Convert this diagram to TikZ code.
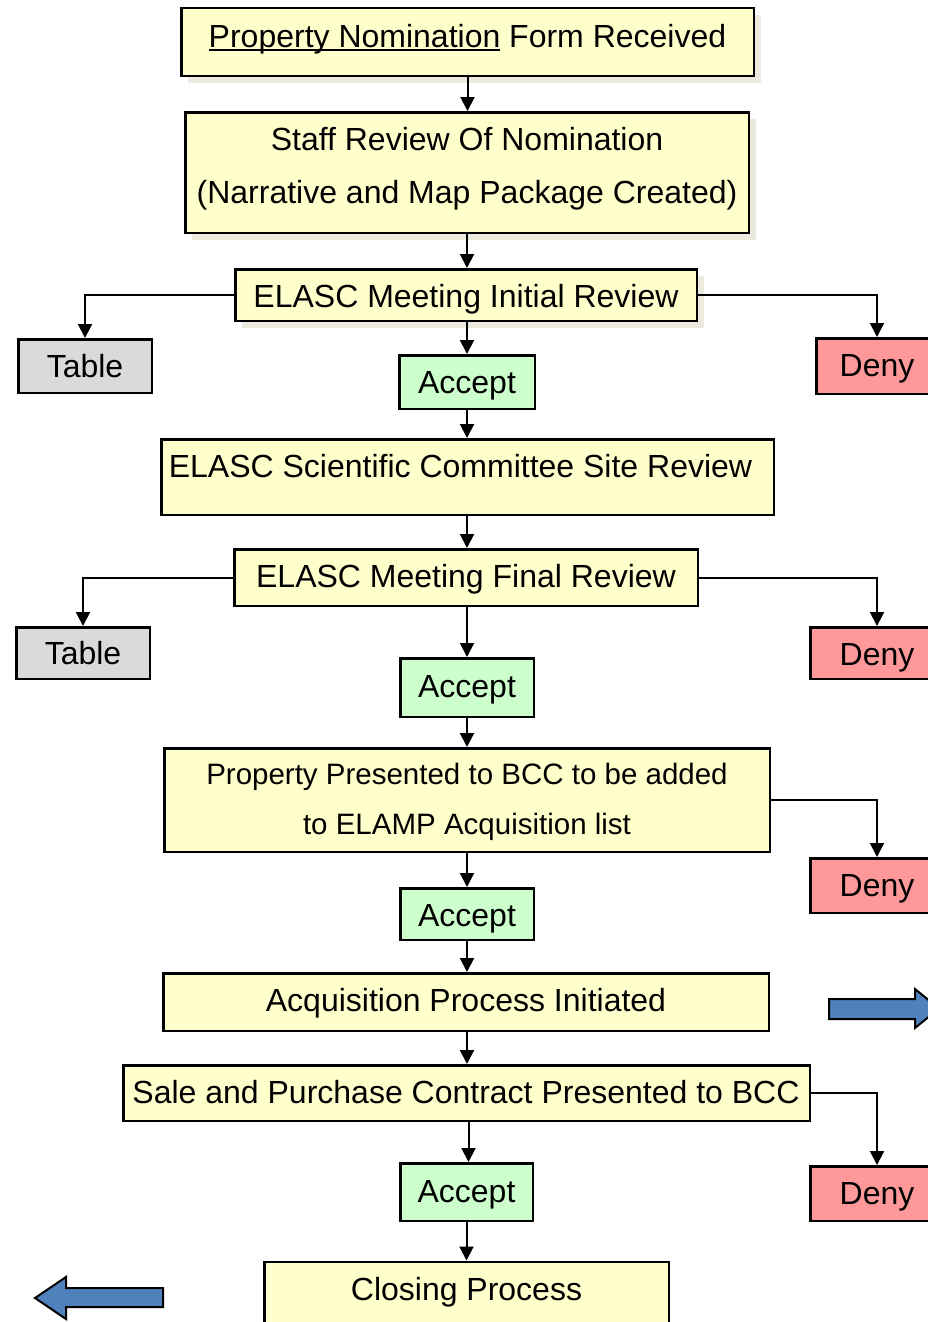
\documentclass[tikz,border=0pt]{standalone}
\usepackage{fontspec}
\setmainfont{Liberation Sans}
\usetikzlibrary{arrows.meta,calc,shadows}
\definecolor{boxyellow}{HTML}{FFFFCC}
\definecolor{boxgreen}{HTML}{CCFFCC}
\definecolor{boxred}{HTML}{FF9999}
\definecolor{boxgray}{HTML}{DADADA}
\definecolor{shadowc}{HTML}{ECE9DE}
\definecolor{arrowblue}{HTML}{4F81BD}
\newcommand\myul[1]{\setbox0\hbox{#1}\rlap{\rule[-4pt]{\wd0}{2pt}}\box0\relax}
\begin{document}
\begin{tikzpicture}[x=1pt,y=-1pt,
  box/.style={draw=black, line width=2.5pt, inner sep=0pt, anchor=center},
  ybox/.style={box, fill=boxyellow},
  gbox/.style={box, fill=boxgreen},
  rbox/.style={box, fill=boxred},
  tbox/.style={box, fill=boxgray},
  shadowed/.style={drop shadow={shadow xshift=7pt, shadow yshift=-7pt, fill=shadowc, opacity=1, draw=none}},
  txt/.style={font=\fontsize{32}{38}\selectfont, text height=23pt, text depth=0pt, inner sep=0pt},
  txts/.style={font=\fontsize{29.5}{35}\selectfont, text height=21pt, text depth=0pt, inner sep=0pt},
  conn/.style={draw=black, line width=2pt, -{Triangle[width=14pt,length=14pt]}},
  bluearrow/.style={fill=arrowblue, draw=black, line width=2pt, line join=miter}
]
\useasboundingbox (0,0) rectangle (928,1322);
\clip (0,0) rectangle (928,1322);

% boxes
\node[ybox, shadowed, minimum width=572.5pt, minimum height=67.5pt] (b1) at (467.5,42) {};
\node[ybox, shadowed, minimum width=563.5pt, minimum height=120.5pt] (b2) at (467,172.5) {};
\node[ybox, shadowed, minimum width=461.5pt, minimum height=51.5pt] (b3) at (466,295) {};
\node[tbox, minimum width=133.5pt, minimum height=53.5pt] (tab1) at (85,366) {};
\node[rbox, minimum width=121.5pt, minimum height=55.5pt] (deny1) at (877,366) {};
\node[gbox, minimum width=135.5pt, minimum height=53.5pt] (acc1) at (467,382) {};
\node[ybox, minimum width=612.5pt, minimum height=75.5pt] (b4) at (467.5,477) {};
\node[ybox, minimum width=463.5pt, minimum height=56.5pt] (b5) at (466,577.5) {};
\node[tbox, minimum width=133.5pt, minimum height=51.5pt] (tab2) at (83,653) {};
\node[rbox, minimum width=133.5pt, minimum height=51.5pt] (deny2) at (877,653) {};
\node[gbox, minimum width=133.5pt, minimum height=58.5pt] (acc2) at (467,687.5) {};
\node[ybox, minimum width=605.5pt, minimum height=103.5pt] (b6) at (467,800) {};
\node[rbox, minimum width=133.5pt, minimum height=54.5pt] (deny3) at (877,885.5) {};
\node[gbox, minimum width=133.5pt, minimum height=51.5pt] (acc3) at (467,914) {};
\node[ybox, minimum width=605.5pt, minimum height=57.5pt] (b7) at (466,1002) {};
\node[ybox, minimum width=686.5pt, minimum height=55.5pt] (b8) at (466.5,1093) {};
\node[rbox, minimum width=133.5pt, minimum height=54.5pt] (deny4) at (877,1193.5) {};
\node[gbox, minimum width=132.5pt, minimum height=57.5pt] (acc4) at (466.5,1192) {};
\node[ybox, minimum width=404.5pt, minimum height=76.5pt] (b9) at (466.5,1300) {};

% texts
\node[txt] (t1) at (467.5,36) {\myul{Property Nomination} Form Received};
\node[txt] (t2a) at (467,139) {Staff Review Of Nomination};
\node[txt] (t2b) at (467,192) {(Narrative and Map Package Created)};
\node[txt] (t3) at (466,296) {ELASC Meeting Initial Review};
\node[txt] (tt1) at (85,366) {Table};
\node[txt] (td1) at (877,365) {Deny};
\node[txt] (ta1) at (467,382) {Accept};
\node[txt] (t4) at (460.5,466) {ELASC Scientific Committee Site Review};
\node[txt] (t5) at (466,576) {ELASC Meeting Final Review};
\node[txt] (tt2) at (83,653) {Table};
\node[txt] (td2) at (877,654) {Deny};
\node[txt] (ta2) at (467,686) {Accept};
\node[txts] (t6a) at (467,774) {Property Presented to BCC to be added};
\node[txts] (t6b) at (467,824) {to ELAMP Acquisition list};
\node[txt] (td3) at (877,885) {Deny};
\node[txt] (ta3) at (467,915) {Accept};
\node[txt] (t7) at (466,1000) {Acquisition Process Initiated};
\node[txt] (t8) at (466,1092) {Sale and Purchase Contract Presented to BCC};
\node[txt] (td4) at (877,1193) {Deny};
\node[txt] (ta4) at (466.5,1191) {Accept};
\node[txt] (t9) at (466.5,1289) {Closing Process};

% vertical connectors
\draw[conn] (b1.south) -- (b1.south |- b2.north);
\draw[conn] (b2.south) -- (b2.south |- b3.north);
\draw[conn] (acc1.north |- b3.south) -- (acc1.north);
\draw[conn] (acc1.south) -- (acc1.south |- b4.north);
\draw[conn] (acc1.south |- b4.south) -- (acc1.south |- b5.north);
\draw[conn] (acc2.north |- b5.south) -- (acc2.north);
\draw[conn] (acc2.south) -- (acc2.south |- b6.north);
\draw[conn] (acc3.north |- b6.south) -- (acc3.north);
\draw[conn] (acc3.south) -- (acc3.south |- b7.north);
\draw[conn] (acc3.south |- b7.south) -- (acc3.south |- b8.north);
\draw[conn] ([xshift=2pt]acc4.north |- b8.south) -- ([xshift=2pt]acc4.north);
\draw[conn] (acc4.south) -- (acc4.south |- b9.north);

% elbow connectors
\draw[conn] (b3.west) -| (tab1.north);
\draw[conn] (b3.east) -| (deny1.north);
\draw[conn] (b5.west) -| (tab2.north);
\draw[conn] (b5.east) -| (deny2.north);
\draw[conn] (b6.east) -| (deny3.north);
\draw[conn] (b8.east) -| (deny4.north);

% block arrows
\draw[bluearrow] (829,999) -- (915,999) -- (915,989) -- (939,1008.5) -- (915,1028) -- (915,1019) -- (829,1019) -- cycle;
\draw[bluearrow] (163,1288) -- (66,1288) -- (66,1277) -- (35,1298) -- (66,1319) -- (66,1307) -- (163,1307) -- cycle;
\end{tikzpicture}
\end{document}
